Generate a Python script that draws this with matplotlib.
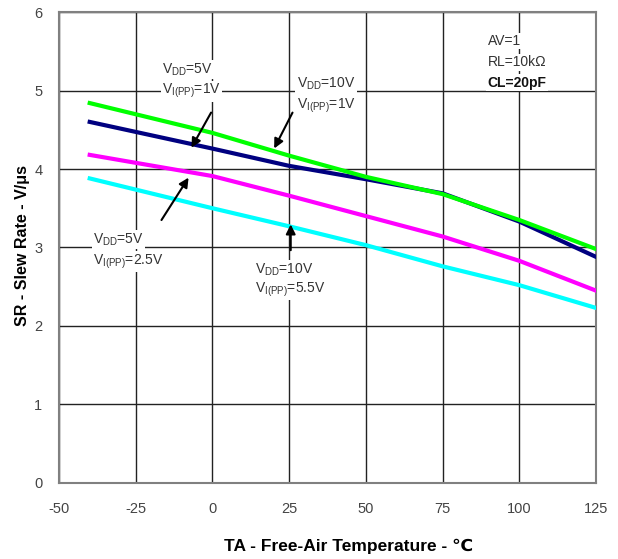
import matplotlib.pyplot as plt

plt.rcParams['font.family'] = ['Liberation Sans', 'DejaVu Sans']
plt.rcParams['mathtext.fontset'] = 'custom'
plt.rcParams['mathtext.rm'] = 'Liberation Sans'
plt.rcParams['mathtext.default'] = 'rm'
plt.rcParams['axes.unicode_minus'] = False

# temperatures (deg C) and slew rates (V/us)
temps = [-40, 0, 25, 50, 75, 100, 125]
sr_5v_1v = [4.60, 4.26, 4.04, 3.87, 3.69, 3.33, 2.88]      # navy
sr_10v_1v = [4.84, 4.46, 4.17, 3.90, 3.68, 3.35, 2.98]     # green
sr_5v_2v5 = [4.18, 3.91, 3.66, 3.40, 3.14, 2.83, 2.45]     # magenta
sr_10v_5v5 = [3.88, 3.50, 3.27, 3.03, 2.76, 2.52, 2.23]    # cyan

xticks = [-50, -25, 0, 25, 50, 75, 100, 125]
yticks = [0, 1, 2, 3, 4, 5, 6]

fig = plt.figure(figsize=(6.18, 5.59), dpi=100)
ax = fig.add_axes([0.0955, 0.136, 0.869, 0.8425])

ax.plot(temps, sr_10v_5v5, color='#00FFFF', lw=3, zorder=3)
ax.plot(temps, sr_5v_2v5, color='#FF00FF', lw=3, zorder=3)
ax.plot(temps, sr_5v_1v, color='#000080', lw=3, zorder=3)
ax.plot(temps, sr_10v_1v, color='#00FF00', lw=3, zorder=4)

ax.set_xlim(-50, 125)
ax.set_ylim(0, 6)
ax.set_xticks(xticks)
ax.set_yticks(yticks)
ax.grid(True, color='#222222', lw=1)
ax.set_axisbelow(True)
ax.tick_params(length=0, labelsize=10.5, labelcolor='#444444')
ax.tick_params(axis='x', pad=14)
ax.tick_params(axis='y', pad=12)
for s in ax.spines.values():
    s.set_color('#808080')
    s.set_linewidth(1.5)

# axis titles placed where the reference has them
fig.text(23 / 618, 1 - 245 / 559, 'SR - Slew Rate - V/\u03bcs', rotation=90,
         fontsize=11.5, fontweight='bold', ha='center', va='center')
fig.text(349 / 618, 1 - 546 / 559, 'TA - Free-Air Temperature - \u2103',
         fontsize=12.5, fontweight='bold', ha='center', va='center')

box = dict(facecolor='white', edgecolor='none', pad=1)
tk = dict(fontsize=10, color='#333333', va='center', ha='left', bbox=box, zorder=5)

def lab(x, y1, y2, vdd, vi):
    ax.text(x, y1, 'V$_{DD}$=' + vdd, **tk)
    ax.text(x, y2, 'V$_{I(PP)}$=' + vi, **tk)

lab(-16.4, 5.27, 4.99, '5V', '1V')
lab(27.5, 5.08, 4.80, '10V', '1V')
lab(-38.9, 3.10, 2.82, '5V', '2.5V')
lab(13.8, 2.72, 2.46, '10V', '5.5V')

ax.text(89.7, 5.63, 'AV=1', **tk)
ax.text(89.7, 5.36, 'RL=10k\u03a9', **tk)
ax.text(89.7, 5.10, 'CL=20pF', fontsize=10, fontweight='bold', color='#111111',
        va='center', ha='left', bbox=box, zorder=5)

arr = dict(arrowstyle='-|>', color='black', lw=1.5, mutation_scale=14)
ax.annotate('', xy=(-7.3, 4.24), xytext=(0, 4.75), arrowprops=arr, zorder=6)
ax.annotate('', xy=(19.7, 4.23), xytext=(26.5, 4.75), arrowprops=arr, zorder=6)
ax.annotate('', xy=(-7.3, 3.92), xytext=(-17.1, 3.32), arrowprops=arr, zorder=6)
ax.annotate('', xy=(25.5, 3.33), xytext=(25.5, 2.93), arrowprops=arr, zorder=6)

fig.savefig('out.png', dpi=100)
